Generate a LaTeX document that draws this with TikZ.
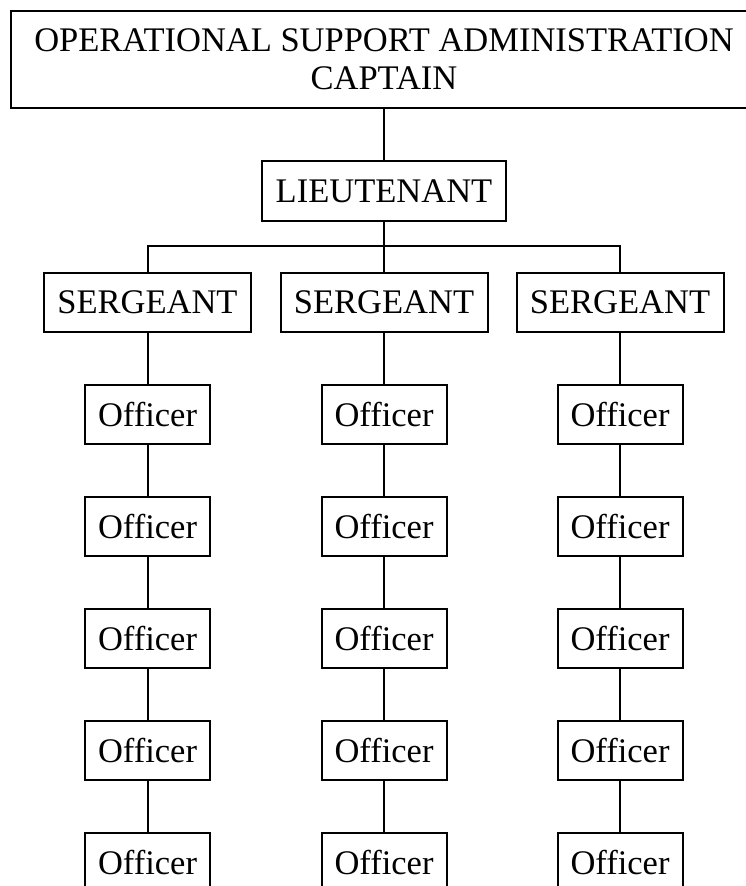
\documentclass[tikz,border=0pt]{standalone}
\usepackage{fontspec}
\setmainfont{Liberation Serif}
\begin{document}
\begin{tikzpicture}[x=1pt,y=-1pt,
  every node/.style={font=\fontsize{34.5}{38}\selectfont},
  boxnode/.style={draw=black,line width=2pt,inner sep=0pt,minimum height=59pt,align=center},
  rankbox/.style={boxnode,minimum width=207pt},
  officerbox/.style={boxnode,minimum width=125pt},
  link/.style={draw=black,line width=2pt}]
\clip (0,0) rectangle (746,886);
\fill[white] (0,0) rectangle (746,886);
\node[boxnode,minimum width=746pt,minimum height=97pt] (cap) at (384,59.5) {OPERATIONAL SUPPORT ADMINISTRATION\\CAPTAIN};
\node[boxnode,minimum width=244pt,minimum height=60pt] (lt) at (384,191) {LIEUTENANT};
\coordinate (bus) at (384,246);
\node[rankbox] (s1) at (147.5,302) {SERGEANT};
\node[rankbox] (s2) at (384,302) {SERGEANT};
\node[rankbox] (s3) at (620,302) {SERGEANT};
\foreach \c/\x in {1/147.5,2/384,3/620}{
  \foreach \r/\y in {1/414.5,2/526.5,3/638.5,4/750.5,5/862.5}{
    \node[officerbox] (o\c\r) at (\x,\y) {Officer};
  }
}
\draw[link] (cap.south) -- (lt.north);
\draw[link] (lt.south) -- (bus);
\draw[link] (s1.north) -- (s1.north |- bus) -- (s3.north |- bus) -- (s3.north);
\draw[link] (s2.north) -- (s2.north |- bus);
\foreach \c in {1,2,3}{
  \draw[link] (s\c.south) -- (o\c1.north);
  \draw[link] (o\c1.south) -- (o\c2.north);
  \draw[link] (o\c2.south) -- (o\c3.north);
  \draw[link] (o\c3.south) -- (o\c4.north);
  \draw[link] (o\c4.south) -- (o\c5.north);
}
\end{tikzpicture}
\end{document}
